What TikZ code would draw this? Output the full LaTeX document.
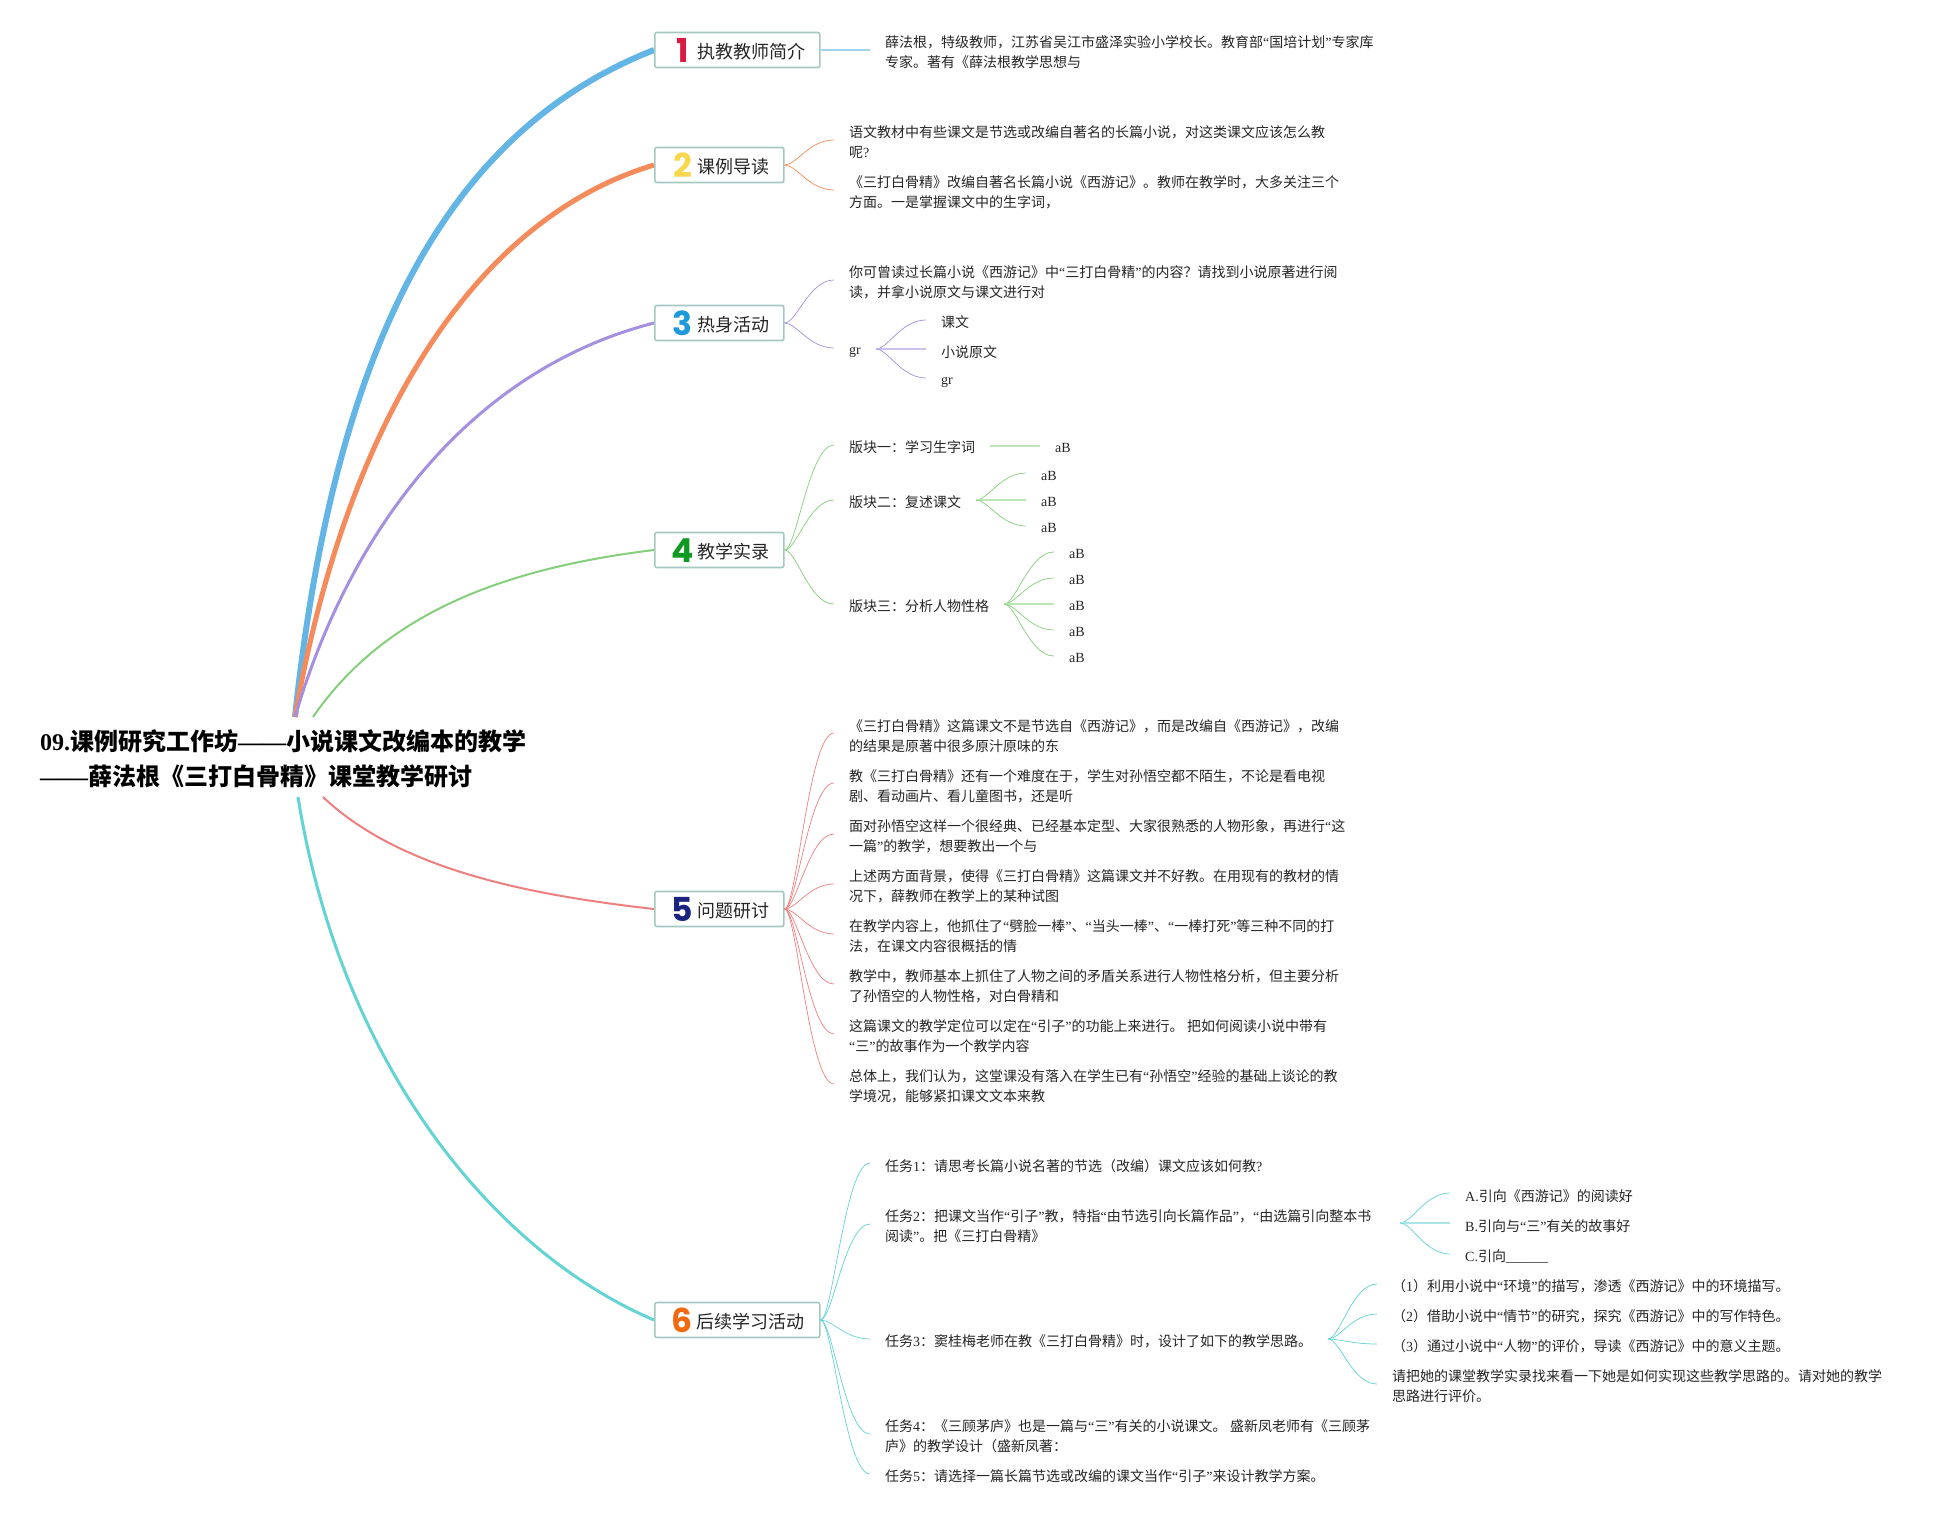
\documentclass[tikz,border=0pt]{standalone}
\usepackage{fontspec}
\setmainfont{Liberation Serif}
\setsansfont{Noto Sans CJK SC}
\newfontfamily\digitf{Poppins}
\newcount\cc
\cc="4E00 \loop \XeTeXcharclass\cc=7 \advance\cc 1 \ifnum\cc<"A000 \repeat
\cc="3000 \loop \XeTeXcharclass\cc=7 \advance\cc 1 \ifnum\cc<"3040 \repeat
\cc="FF00 \loop \XeTeXcharclass\cc=7 \advance\cc 1 \ifnum\cc<"FFF0 \repeat
\XeTeXcharclass"201C=0 \XeTeXcharclass"201D=0 \XeTeXcharclass"2014=0
\XeTeXcharclass"2018=0 \XeTeXcharclass"2019=0
\XeTeXinterchartoks 0 7 = {\sffamily}
\XeTeXinterchartoks 7 0 = {\rmfamily}
\XeTeXinterchartoks 4095 7 = {\sffamily}
\XeTeXinterchartoks 7 4095 = {\rmfamily}
\XeTeXinterchartokenstate=1
\definecolor{cblue}{HTML}{62B5E5}
\definecolor{corange}{HTML}{F58B5B}
\definecolor{cpurple}{HTML}{A58FE0}
\definecolor{cgreen}{HTML}{85CF7C}
\definecolor{cred}{HTML}{EE7F7F}
\definecolor{cteal}{HTML}{63D3D3}
\definecolor{boxline}{HTML}{A3C9C1}
\definecolor{ink}{HTML}{262626}
\definecolor{d1}{HTML}{D81B40}
\definecolor{d2}{HTML}{F8D84A}
\definecolor{d3}{HTML}{1E9ADA}
\definecolor{d4}{HTML}{109A24}
\definecolor{d5}{HTML}{1A237E}
\definecolor{d6}{HTML}{F26A10}
\pgfdeclarelayer{links}
\pgfsetlayers{links,main}
\tikzset{
  txt/.style={anchor=west,inner sep=0pt,yshift=-1pt,align=left,text=ink,font=\fontsize{14}{20}\selectfont},
  topbox/.style={draw=boxline,line width=1.6pt,rounded corners=2pt,fill=white,minimum height=35pt,inner sep=0pt,anchor=west},
  toplabel/.style={anchor=west,inner sep=0pt,yshift=-1.5pt,text=ink,font=\fontsize{18}{20}\selectfont},
  digitn/.style={inner sep=0pt,yshift=-.5pt,font=\fontsize{33}{33}\digitf\bfseries\selectfont},
  titlen/.style={anchor=west,inner sep=0pt,align=left,text=black,font=\fontsize{24}{35}\selectfont\bfseries},
  br/.style={line width=.7pt,draw=#1},
  flat/.style={line width=1.6pt,draw=#1!55},
}
\newcommand{\cv}[3]{\draw[br=#1] (#2) .. controls +(12,0) and +(-25,0) .. (#3);}
\newcommand{\fl}[3]{\draw[flat=#1] (#2) -- (#3);}
\begin{document}
\begin{tikzpicture}[x=1pt,y=-1pt]
\useasboundingbox (0,0) rectangle (1952,1514);
\begin{pgfonlayer}{links}
\fill[white] (0,0) rectangle (1952,1514);
\end{pgfonlayer}
% root attachment points
\coordinate (ra) at (295,717);
\coordinate (rg) at (313,717);
\coordinate (rr) at (323,797);
\coordinate (rt) at (298,797);
% boxes
\node[topbox,minimum width=165pt] (b1) at (654,50) {};
\node[topbox,minimum width=129pt] (b2) at (654,165) {};
\node[topbox,minimum width=129pt] (b3) at (654,323) {};
\node[topbox,minimum width=129pt] (b4) at (654,550) {};
\node[topbox,minimum width=129pt] (b5) at (654,909) {};
\node[topbox,minimum width=165pt] (b6) at (654,1320) {};
% main connectors
\begin{pgfonlayer}{links}
\draw[cblue,line width=6pt] (ra) .. controls (335,340) and (450,130) .. (b1.west);
\draw[corange,line width=5pt] (ra) .. controls (345,430) and (470,220) .. (b2.west);
\draw[cpurple,line width=3pt] (ra) .. controls (350,530) and (470,370) .. (b3.west);
\draw[cgreen,line width=2pt] (rg) .. controls (380,620) and (490,570) .. (b4.west);
\draw[cred,line width=2pt] (rr) .. controls (400,870) and (530,895) .. (b5.west);
\draw[cteal,line width=3pt] (rt) .. controls (340,1060) and (490,1250) .. (b6.west);
\end{pgfonlayer}
% root
\node[titlen] (root) at (40,759) {09.课例研究工作坊——小说课文改编本的教学\\——薛法根《三打白骨精》课堂教学研讨};
% box digits and labels
\node[digitn,text=d1] (n1) at (683,50) {1};
\node[digitn,text=d2] (n2) at (682.5,165) {2};
\node[digitn,text=d3] (n3) at (682.5,323) {3};
\node[digitn,text=d4] (n4) at (682.5,550) {4};
\node[digitn,text=d5] (n5) at (682.5,909) {5};
\node[digitn,text=d6] (n6) at (682.5,1320) {6};
\node[toplabel] (l1) at (697,50) {执教教师简介};
\node[toplabel] (l2) at (697,165) {课例导读};
\node[toplabel] (l3) at (697,323) {热身活动};
\node[toplabel] (l4) at (697,550) {教学实录};
\node[toplabel] (l5) at (697,909) {问题研讨};
\node[toplabel] (l6) at (696,1320) {后续学习活动};
% branch 1
\node[txt] (t1) at (885,51) {薛法根，特级教师，江苏省吴江市盛泽实验小学校长。教育部“国培计划”专家库\\专家。著有《薛法根教学思想与};
\coordinate (e1) at (870,50);
\draw[cblue!60,line width=1.2pt] (b1.east) -- (e1);
% branch 2
\node[txt] (t21) at (849,141) {语文教材中有些课文是节选或改编自著名的长篇小说，对这类课文应该怎么教\\呢?};
\node[txt] (t22) at (849,191) {《三打白骨精》改编自著名长篇小说《西游记》。教师在教学时，大多关注三个\\方面。一是掌握课文中的生字词，};
\coordinate (e21) at (834,140);
\coordinate (e22) at (834,190);
\cv{corange}{b2.east}{e21}
\cv{corange}{b2.east}{e22}
% branch 3
\node[txt] (t31) at (849,281) {你可曾读过长篇小说《西游记》中“三打白骨精”的内容？请找到小说原著进行阅\\读，并拿小说原文与课文进行对};
\node[txt] (t32) at (849,351.5) {gr};
\node[txt] (t321) at (941,321) {课文};
\node[txt] (t322) at (941,351) {小说原文};
\node[txt] (t323) at (941,381.5) {gr};
\coordinate (e31) at (834,280);
\coordinate (e32) at (834,348);
\coordinate (h32) at (876,349);
\coordinate (e321) at (926,320);
\coordinate (e322) at (926,349);
\coordinate (e323) at (926,378);
\cv{cpurple}{b3.east}{e31}
\cv{cpurple}{b3.east}{e32}
\cv{cpurple}{h32}{e321}
\fl{cpurple}{h32}{e322}
\cv{cpurple}{h32}{e323}
% branch 4
\node[txt] (t41) at (849,446) {版块一：学习生字词};
\node[txt] (t42) at (849,501) {版块二：复述课文};
\node[txt] (t43) at (849,605) {版块三：分析人物性格};
\coordinate (e41) at (834,445);
\coordinate (e42) at (834,500);
\coordinate (e43) at (834,604);
\cv{cgreen}{b4.east}{e41}
\cv{cgreen}{b4.east}{e42}
\cv{cgreen}{b4.east}{e43}
\node[txt] (a1) at (1055,447) {aB};
\coordinate (h41) at (990,446);
\coordinate (e410) at (1040,446);
\fl{cgreen}{h41}{e410}
\coordinate (h42) at (976,500);
\node[txt] (a21) at (1041,475) {aB};
\node[txt] (a22) at (1041,501) {aB};
\node[txt] (a23) at (1041,527) {aB};
\cv{cgreen}{h42}{1026,473}
\fl{cgreen}{h42}{1026,500}
\cv{cgreen}{h42}{1026,526}
\coordinate (h43) at (1004,604);
\node[txt] (a31) at (1069,553) {aB};
\node[txt] (a32) at (1069,579) {aB};
\node[txt] (a33) at (1069,605) {aB};
\node[txt] (a34) at (1069,631) {aB};
\node[txt] (a35) at (1069,657) {aB};
\cv{cgreen}{h43}{1054,552}
\cv{cgreen}{h43}{1054,578}
\fl{cgreen}{h43}{1054,604}
\cv{cgreen}{h43}{1054,630}
\cv{cgreen}{h43}{1054,656}
% branch 5
\node[txt] (t51) at (849,735) {《三打白骨精》这篇课文不是节选自《西游记》，而是改编自《西游记》，改编\\的结果是原著中很多原汁原味的东};
\node[txt] (t52) at (849,785) {教《三打白骨精》还有一个难度在于，学生对孙悟空都不陌生，不论是看电视\\剧、看动画片、看儿童图书，还是听};
\node[txt] (t53) at (849,835) {面对孙悟空这样一个很经典、已经基本定型、大家很熟悉的人物形象，再进行“这\\一篇”的教学，想要教出一个与};
\node[txt] (t54) at (849,885) {上述两方面背景，使得《三打白骨精》这篇课文并不好教。在用现有的教材的情\\况下，薛教师在教学上的某种试图};
\node[txt] (t55) at (849,935) {在教学内容上，他抓住了“劈脸一棒”、“当头一棒”、“一棒打死”等三种不同的打\\法，在课文内容很概括的情};
\node[txt] (t56) at (849,985) {教学中，教师基本上抓住了人物之间的矛盾关系进行人物性格分析，但主要分析\\了孙悟空的人物性格，对白骨精和};
\node[txt] (t57) at (849,1035) {这篇课文的教学定位可以定在“引子”的功能上来进行。 把如何阅读小说中带有\\“三”的故事作为一个教学内容};
\node[txt] (t58) at (849,1085) {总体上，我们认为，这堂课没有落入在学生已有“孙悟空”经验的基础上谈论的教\\学境况，能够紧扣课文文本来教};
\foreach \y in {733,783,834,884,934,984,1034,1084} {\cv{cred}{b5.east}{834,\y}}
% branch 6
\node[txt] (t61) at (885,1165) {任务1：请思考长篇小说名著的节选（改编）课文应该如何教?};
\node[txt] (t62) at (885,1225) {任务2：把课文当作“引子”教，特指“由节选引向长篇作品”，“由选篇引向整本书\\阅读”。把《三打白骨精》};
\node[txt] (t63) at (885,1340) {任务3：窦桂梅老师在教《三打白骨精》时，设计了如下的教学思路。};
\node[txt] (t64) at (885,1435) {任务4：《三顾茅庐》也是一篇与“三”有关的小说课文。 盛新凤老师有《三顾茅\\庐》的教学设计（盛新凤著：};
\node[txt] (t65) at (885,1475) {任务5：请选择一篇长篇节选或改编的课文当作“引子”来设计教学方案。};
\foreach \y in {1163,1224,1339,1434,1474} {\cv{cteal}{b6.east}{870,\y}}
\coordinate (h62) at (1400,1223);
\node[txt] (t621) at (1465,1195) {A.引向《西游记》的阅读好};
\node[txt] (t622) at (1465,1225) {B.引向与“三”有关的故事好};
\node[txt] (t623) at (1465,1255) {C.引向\_\_\_\_\_\_};
\cv{cteal}{h62}{1450,1193}
\fl{cteal}{h62}{1450,1223}
\cv{cteal}{h62}{1450,1254}
\coordinate (h63) at (1328,1339);
\node[txt] (t631) at (1392,1285) {（1）利用小说中“环境”的描写，渗透《西游记》中的环境描写。};
\node[txt] (t632) at (1392,1315) {（2）借助小说中“情节”的研究，探究《西游记》中的写作特色。};
\node[txt] (t633) at (1392,1345) {（3）通过小说中“人物”的评价，导读《西游记》中的意义主题。};
\node[txt] (t634) at (1392,1385) {请把她的课堂教学实录找来看一下她是如何实现这些教学思路的。请对她的教学\\思路进行评价。};
\cv{cteal}{h63}{1377,1284}
\cv{cteal}{h63}{1377,1314}
\cv{cteal}{h63}{1377,1344}
\cv{cteal}{h63}{1377,1384}
\end{tikzpicture}
\end{document}
